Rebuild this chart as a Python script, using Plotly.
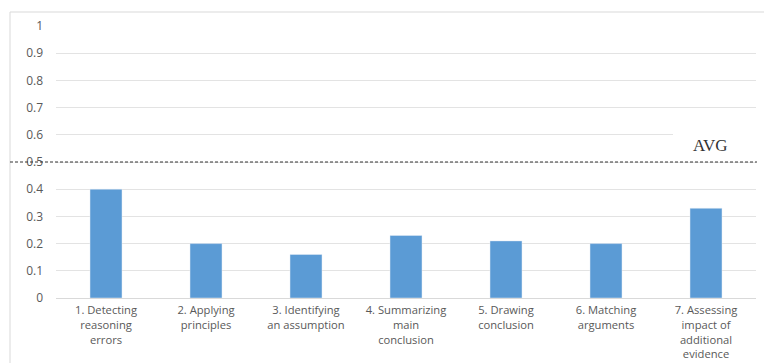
import plotly.graph_objects as go

categories = ["1. Detecting<br>reasoning<br>errors", "2. Applying<br>principles",
              "3. Identifying<br>an assumption", "4. Summarizing<br>main<br>conclusion",
              "5. Drawing<br>conclusion", "6. Matching<br>arguments",
              "7. Assessing<br>impact of<br>additional<br>evidence"]
values = [0.40, 0.20, 0.16, 0.23, 0.21, 0.20, 0.33]
avg_value = 0.5
avg_label = "AVG"

W, H = 764, 363
L, R, T, B = 56, 8, 26, 65
pw, ph = W - L - R, H - T - B

def px_x(p):
    return (p - L) / pw

def px_y(p):
    return (H - B - p) / ph

fig = go.Figure()
fig.add_trace(go.Bar(x=categories, y=values, marker_color="#5b9bd5", width=0.32))

fig.update_layout(
    width=W, height=H,
    margin=dict(l=L, r=R, t=T, b=B, autoexpand=False),
    paper_bgcolor="white", plot_bgcolor="white",
    showlegend=False,
    font=dict(family="Open Sans", size=12, color="#595959"),
    xaxis=dict(showgrid=False, showline=True, linecolor="#d9d9d9", linewidth=1,
               ticks="", tickfont=dict(size=11.2, color="#595959"), tickangle=0,
               automargin=False, ticklabelstandoff=2),
    yaxis=dict(range=[0, 1], dtick=0.1, showgrid=True, gridcolor="#e3e3e3",
               zeroline=False, showline=False, ticks="", automargin=False,
               tickfont=dict(size=12, color="#595959"), ticklabelstandoff=12),
)

# chart border (top and left)
fig.add_shape(type="line", xref="paper", yref="paper", x0=px_x(10), x1=px_x(770),
              y0=px_y(12), y1=px_y(12), line=dict(color="#d9d9d9", width=1))
fig.add_shape(type="line", xref="paper", yref="paper", x0=px_x(10), x1=px_x(10),
              y0=px_y(12), y1=px_y(370), line=dict(color="#d9d9d9", width=1))

# AVG line
fig.add_shape(type="line", xref="paper", yref="y", x0=px_x(10), x1=px_x(757),
              y0=avg_value, y1=avg_value, layer="above",
              line=dict(color="#333333", width=1, dash="3px,2px"))

# white box behind AVG label (covers the gridline there)
fig.add_annotation(xref="paper", yref="paper", x=px_x(673), y=px_y(159), text=" ",
                   xanchor="left", yanchor="bottom", width=88, height=28,
                   bgcolor="white", borderpad=0, borderwidth=0, showarrow=False)

fig.add_annotation(xref="paper", yref="paper", x=px_x(710), y=px_y(145), text=avg_label,
                   xanchor="center", yanchor="middle",
                   showarrow=False, font=dict(family="Liberation Serif", size=17, color="#333333"))

fig.write_html("out.html")
